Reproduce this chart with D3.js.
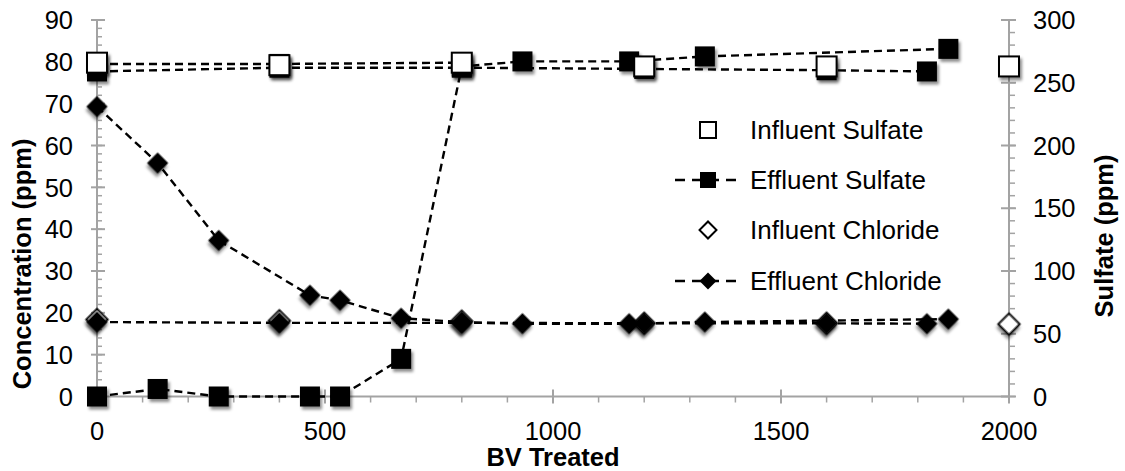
<!DOCTYPE html>
<html><head><meta charset="utf-8">
<script src="https://cdn.jsdelivr.net/npm/d3@7"></script>
<style>
html,body{margin:0;padding:0;background:#fff;}
svg text{font-family:"Liberation Sans",Arial,Helvetica,sans-serif;fill:#000;}
</style></head>
<body>
<svg id="chart" width="1125" height="471"></svg>
<script>
// ---------- DATA ----------
const bvTicks = [0, 500, 1000, 1500, 2000];
const leftTicks = [0, 10, 20, 30, 40, 50, 60, 70, 80, 90];
const rightTicks = [0, 50, 100, 150, 200, 250, 300];

// influent samples
const influentBV = [0, 400, 800, 1200, 1600, 2000];
const influentSulfate = [266, 264, 266, 263, 263, 263];      // right axis
const influentChloride = [18.4, 18.1, 18.0, 17.5, 17.5, 17.3]; // left axis

// effluent, run A
const runABV = [0, 133, 267, 467, 533, 667, 800, 933, 1167, 1333, 1867];
const runASulfate = [0, 6, 0, 0, 0, 30, 263, 267, 267, 271, 277];
const runAChloride = [69.3, 55.8, 37.3, 24.2, 23.0, 18.7, 17.8, 17.4, 17.4, 17.8, 18.5];

// effluent, run B
const runBBV = [0, 400, 800, 1200, 1600, 1820];
const runBSulfate = [259, 262, 262, 261, 260, 259];
const runBChloride = [17.8, 17.6, 17.6, 17.5, 17.5, 17.4];

// effluent sulfate, run C
const runCBV = [0, 400, 800];
const runCSulfate = [265, 265, 266];

const legendLabels = ["Influent Sulfate", "Effluent Sulfate", "Influent Chloride", "Effluent Chloride"];

// ---------- CHART ----------
const svg = d3.select("#chart");
const x = d3.scaleLinear().domain([0, 2000]).range([97, 1009]);
const yL = d3.scaleLinear().domain([0, 90]).range([396.5, 20]);
const yR = d3.scaleLinear().domain([0, 300]).range([396.5, 20]);

const axisColor = "#a3a3a3";
const defs = svg.append("defs");
const f = defs.append("filter").attr("id", "sh").attr("x", "-60%").attr("y", "-60%").attr("width", "220%").attr("height", "220%");
f.append("feDropShadow").attr("dx", 2).attr("dy", 3).attr("stdDeviation", 1.8)
  .attr("flood-color", "#000").attr("flood-opacity", 0.45);

const gAxes = svg.append("g");
const x0 = x(0), x1 = x(2000), yb = yL(0);

// axis lines
gAxes.append("line").attr("x1", x0).attr("x2", x0).attr("y1", yL(90)).attr("y2", yb)
  .attr("stroke", axisColor).attr("stroke-width", 2);
gAxes.append("line").attr("x1", x1).attr("x2", x1).attr("y1", yR(300)).attr("y2", yb)
  .attr("stroke", axisColor).attr("stroke-width", 2);
gAxes.append("line").attr("x1", x0).attr("x2", x1).attr("y1", yb).attr("y2", yb)
  .attr("stroke", axisColor).attr("stroke-width", 2);

// left ticks
const leftMinor = d3.range(0, 90.001, 2);
gAxes.selectAll(".lmin").data(leftMinor).join("line")
  .attr("x1", x0).attr("x2", x0 + 5).attr("y1", d => yL(d)).attr("y2", d => yL(d))
  .attr("stroke", axisColor).attr("stroke-width", 1.5);
gAxes.selectAll(".lmaj").data(leftTicks).join("line")
  .attr("x1", x0 - 6).attr("x2", x0 + 8).attr("y1", d => yL(d)).attr("y2", d => yL(d))
  .attr("stroke", axisColor).attr("stroke-width", 2);
gAxes.selectAll(".llab").data(leftTicks).join("text")
  .attr("x", 73).attr("y", d => yL(d)).attr("dy", "0.36em")
  .attr("text-anchor", "end").attr("font-size", 25.5).text(d => d);

// right ticks
const rightMinor = d3.range(0, 300.001, 10);
gAxes.selectAll(".rmin").data(rightMinor).join("line")
  .attr("x1", x1).attr("x2", x1 + 6).attr("y1", d => yR(d)).attr("y2", d => yR(d))
  .attr("stroke", axisColor).attr("stroke-width", 1.5);
gAxes.selectAll(".rmaj").data(rightTicks).join("line")
  .attr("x1", x1 - 8).attr("x2", x1 + 7).attr("y1", d => yR(d)).attr("y2", d => yR(d))
  .attr("stroke", axisColor).attr("stroke-width", 2);
gAxes.selectAll(".rlab").data(rightTicks).join("text")
  .attr("x", 1033).attr("y", d => yR(d)).attr("dy", "0.36em")
  .attr("text-anchor", "start").attr("font-size", 25.5).text(d => d);

// bottom ticks
const bottomMinor = d3.range(0, 2000.001, 100);
gAxes.selectAll(".bmin").data(bottomMinor).join("line")
  .attr("x1", d => x(d)).attr("x2", d => x(d)).attr("y1", yb).attr("y2", yb + 6)
  .attr("stroke", axisColor).attr("stroke-width", 1.5);
gAxes.selectAll(".bmaj").data(bvTicks).join("line")
  .attr("x1", d => x(d)).attr("x2", d => x(d)).attr("y1", yb - 7).attr("y2", yb + 7)
  .attr("stroke", axisColor).attr("stroke-width", 2);
gAxes.selectAll(".blab").data(bvTicks).join("text")
  .attr("x", d => x(d)).attr("y", 440)
  .attr("text-anchor", "middle").attr("font-size", 25.5).text(d => d);

// titles
svg.append("text").attr("x", x(1000)).attr("y", 466).attr("text-anchor", "middle")
  .attr("font-size", 25.5).attr("font-weight", "bold").text("BV Treated");
svg.append("text").attr("transform", "translate(22,264) rotate(-90)").attr("dy", "0.36em")
  .attr("text-anchor", "middle").attr("font-size", 25.5).attr("font-weight", "bold").text("Concentration (ppm)");
svg.append("text").attr("transform", "translate(1104,236) rotate(-90)").attr("dy", "0.36em")
  .attr("text-anchor", "middle").attr("font-size", 25.5).attr("font-weight", "bold").text("Sulfate (ppm)");

// ---------- SERIES ----------
const dash = "8,5";
const plot = svg.append("g");
const sq = 20, dia = 15;

function drawLine(bv, vals, yScale) {
  const pts = bv.map((b, i) => [x(b), yScale(vals[i])]);
  plot.append("path").attr("d", d3.line()(pts))
    .attr("fill", "none").attr("stroke", "#000").attr("stroke-width", 2.4)
    .attr("stroke-dasharray", dash);
}
function drawSquares(bv, vals, yScale, filled) {
  plot.append("g").selectAll("rect").data(bv).join("rect")
    .attr("x", (b) => x(b) - sq / 2).attr("y", (b, i) => yScale(vals[i]) - sq / 2)
    .attr("width", sq).attr("height", sq)
    .attr("fill", filled ? "#000" : "#fff").attr("stroke", "#000").attr("stroke-width", filled ? 0 : 2)
    .attr("filter", "url(#sh)");
}
function drawDiamonds(bv, vals, yScale, filled) {
  plot.append("g").selectAll("rect").data(bv).join("rect")
    .attr("x", -dia / 2).attr("y", -dia / 2).attr("width", dia).attr("height", dia)
    .attr("transform", (b, i) => `translate(${x(b)},${yScale(vals[i])}) rotate(45)`)
    .attr("fill", filled ? "#000" : "#fff").attr("stroke", "#000").attr("stroke-width", filled ? 0 : 2)
    .attr("filter", "url(#sh)");
}

// influent chloride (markers only)
drawDiamonds(influentBV, influentChloride, yL, false);
// effluent chloride
drawLine(runABV, runAChloride, yL);
drawLine(runBBV, runBChloride, yL);
drawDiamonds(runABV, runAChloride, yL, true);
drawDiamonds(runBBV, runBChloride, yL, true);
// effluent sulfate
drawLine(runABV, runASulfate, yR);
drawLine(runBBV, runBSulfate, yR);
drawLine(runCBV, runCSulfate, yR);
drawSquares(runCBV, runCSulfate, yR, true);
drawSquares(runBBV, runBSulfate, yR, true);
drawSquares(runABV, runASulfate, yR, true);
// influent sulfate (markers only)
drawSquares(influentBV, influentSulfate, yR, false);

// ---------- LEGEND ----------
const leg = svg.append("g");
const legY = [130, 180, 230, 281];
const legMx = 708;
legendLabels.forEach((lab, i) => {
  const y = legY[i];
  if (i === 1 || i === 3) {
    leg.append("line").attr("x1", 675).attr("x2", 741).attr("y1", y).attr("y2", y)
      .attr("stroke", "#000").attr("stroke-width", 2.4).attr("stroke-dasharray", "10,7");
  }
  const filled = (i === 1 || i === 3);
  if (i < 2) {
    leg.append("rect").attr("x", legMx - 8).attr("y", y - 8).attr("width", 16).attr("height", 16)
      .attr("fill", filled ? "#000" : "#fff").attr("stroke", "#000").attr("stroke-width", filled ? 0 : 2);
  } else {
    leg.append("rect").attr("x", -6).attr("y", -6).attr("width", 12).attr("height", 12)
      .attr("transform", `translate(${legMx},${y}) rotate(45)`)
      .attr("fill", filled ? "#000" : "#fff").attr("stroke", "#000").attr("stroke-width", filled ? 0 : 2);
  }
  leg.append("text").attr("x", 750).attr("y", y).attr("dy", "0.36em")
    .attr("font-size", 26).text(lab);
});
</script>
</body></html>
